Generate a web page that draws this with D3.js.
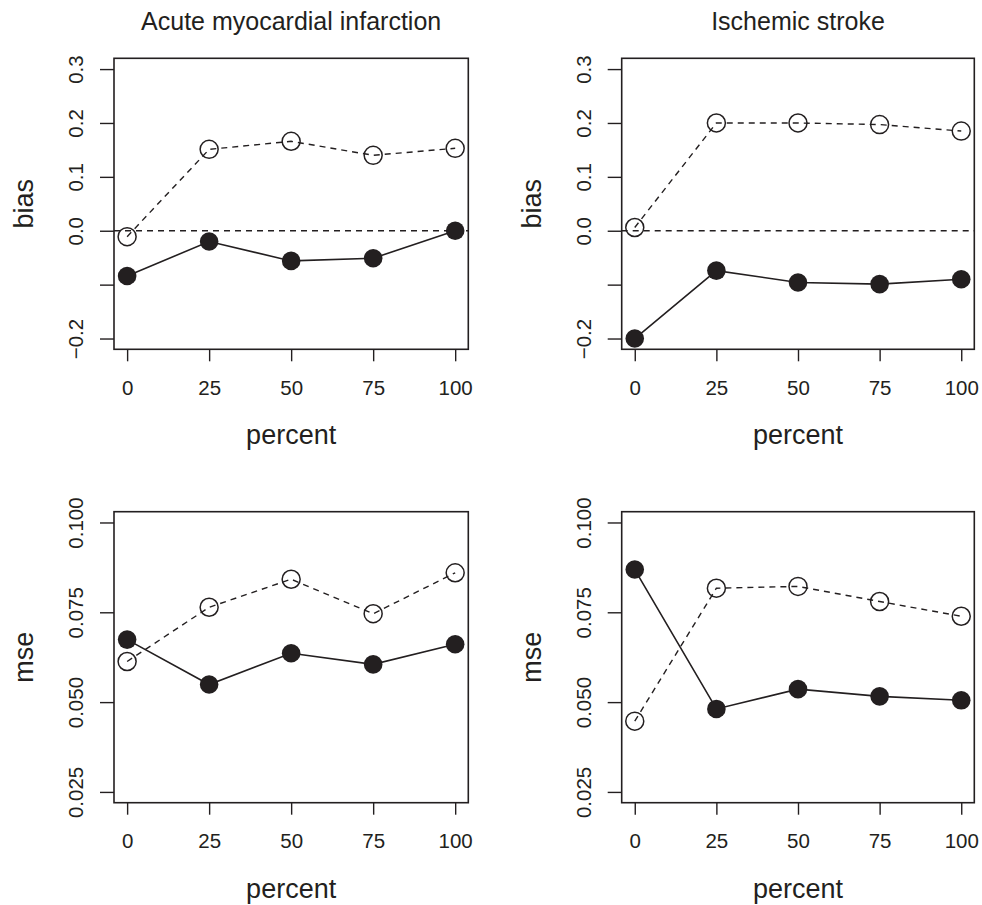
<!DOCTYPE html>
<meta charset="utf-8">
<style>
body { margin: 0; background: #fff; }
svg { display: block; font-family: "Liberation Sans", Arial, Helvetica, sans-serif; }
.box { fill: none; stroke: #231f20; stroke-width: 1.6; }
.axis line { stroke: #231f20; stroke-width: 1.4; }
.axis text { fill: #231f20; font-size: 20.5px; }
.lab { fill: #231f20; font-size: 27px; }
.title { fill: #231f20; font-size: 25px; }
</style>
<svg width="982" height="905"></svg>
<script src="https://d3js.org/d3.v7.min.js"></script>
<script>

// data
var percent = [0, 25, 50, 75, 100];

var amiBiasOpen    = [-0.011, 0.151, 0.166, 0.140, 0.153];
var amiBiasFilled  = [-0.084, -0.020, -0.056, -0.051, 0.000];
var strBiasOpen    = [0.006, 0.200, 0.200, 0.197, 0.185];
var strBiasFilled  = [-0.200, -0.074, -0.096, -0.099, -0.090];

var amiMseOpen     = [0.0613, 0.0764, 0.0842, 0.0746, 0.0860];
var amiMseFilled   = [0.0674, 0.0549, 0.0636, 0.0605, 0.0661];
var strMseOpen     = [0.0447, 0.0817, 0.0822, 0.0780, 0.0739];
var strMseFilled   = [0.0869, 0.0481, 0.0536, 0.0516, 0.0505];

var titles = ["Acute myocardial infarction", "Ischemic stroke"];

var biasTicks = [-0.2, -0.1, 0, 0.1, 0.2, 0.3];
var biasTickLabels = ["\u22120.2", "", "0.0", "0.1", "0.2", "0.3"];
var mseTicks = [0.025, 0.05, 0.075, 0.1];
var mseTickLabels = ["0.025", "0.050", "0.075", "0.100"];

var svg = d3.select("svg");

var cols = [{x0: 114, x1: 468.3}, {x0: 621.7, x1: 974.3}];
var rows = [{y0: 58.3, y1: 349.3}, {y0: 511.7, y1: 802.7}];

var panels = [
  {col: 0, row: 0, open: amiBiasOpen, filled: amiBiasFilled, ylab: "bias", ticks: biasTicks, labels: biasTickLabels, lim: [-0.2, 0.3], zero: true},
  {col: 1, row: 0, open: strBiasOpen, filled: strBiasFilled, ylab: "bias", ticks: biasTicks, labels: biasTickLabels, lim: [-0.2, 0.3], zero: true},
  {col: 0, row: 1, open: amiMseOpen, filled: amiMseFilled, ylab: "mse", ticks: mseTicks, labels: mseTickLabels, lim: [0.025, 0.1], zero: false},
  {col: 1, row: 1, open: strMseOpen, filled: strMseFilled, ylab: "mse", ticks: mseTicks, labels: mseTickLabels, lim: [0.025, 0.1], zero: false}
];

panels.forEach(function(p) {
  var c = cols[p.col], r = rows[p.row];
  var pad = (p.lim[1] - p.lim[0]) * 0.04;

  var x = d3.scaleLinear().domain([-4, 104]).range([c.x0, c.x1]);
  var y = d3.scaleLinear().domain([p.lim[0] - pad, p.lim[1] + pad]).range([r.y1, r.y0]);

  var g = svg.append("g");

  if (p.row === 0) {
    g.append("text")
      .attr("class", "title")
      .attr("x", (c.x0 + c.x1) / 2)
      .attr("y", 30)
      .attr("text-anchor", "middle")
      .text(titles[p.col]);
  }

  if (p.zero) {
    g.append("line")
      .attr("x1", c.x0).attr("x2", c.x1)
      .attr("y1", y(0)).attr("y2", y(0))
      .attr("stroke", "#231f20")
      .attr("stroke-width", 1.4)
      .attr("stroke-dasharray", "6,5");
  }

  var line = d3.line()
    .x(function(d, i) { return x(percent[i]); })
    .y(function(d) { return y(d); });

  g.append("path")
    .datum(p.open)
    .attr("d", line)
    .attr("fill", "none")
    .attr("stroke", "#231f20")
    .attr("stroke-width", 1.4)
    .attr("stroke-dasharray", "6,5");

  g.append("path")
    .datum(p.filled)
    .attr("d", line)
    .attr("fill", "none")
    .attr("stroke", "#231f20")
    .attr("stroke-width", 1.6);

  g.selectAll(".open")
    .data(p.open)
    .enter().append("circle")
    .attr("cx", function(d, i) { return x(percent[i]); })
    .attr("cy", function(d) { return y(d); })
    .attr("r", 9)
    .attr("fill", "none")
    .attr("stroke", "#231f20")
    .attr("stroke-width", 1.5);

  g.selectAll(".filled")
    .data(p.filled)
    .enter().append("circle")
    .attr("cx", function(d, i) { return x(percent[i]); })
    .attr("cy", function(d) { return y(d); })
    .attr("r", 9.3)
    .attr("fill", "#231f20");

  g.append("rect")
    .attr("class", "box")
    .attr("x", c.x0).attr("y", r.y0)
    .attr("width", c.x1 - c.x0).attr("height", r.y1 - r.y0);

  var xa = g.append("g")
    .attr("class", "axis")
    .attr("transform", "translate(0," + r.y1 + ")")
    .call(d3.axisBottom(x).tickValues(percent).tickSize(12).tickPadding(19).tickFormat(d3.format("d")));
  xa.select(".domain").remove();
  xa.selectAll("text").attr("font-family", null).attr("font-size", null);

  var ya = g.append("g")
    .attr("class", "axis")
    .attr("transform", "translate(" + c.x0 + ",0)")
    .call(d3.axisLeft(y).tickValues(p.ticks).tickSize(14).tickFormat(function(d, i) { return p.labels[i]; }));
  ya.select(".domain").remove();
  ya.selectAll("text")
    .attr("font-family", null).attr("font-size", null)
    .attr("x", null).attr("dy", null)
    .attr("text-anchor", "middle")
    .attr("transform", "translate(-31,0) rotate(-90)");

  g.append("text")
    .attr("class", "lab")
    .attr("text-anchor", "middle")
    .attr("x", (c.x0 + c.x1) / 2)
    .attr("y", r.y1 + 95)
    .text("percent");

  g.append("text")
    .attr("class", "lab")
    .attr("text-anchor", "middle")
    .attr("transform", "translate(" + (c.x0 - 81) + "," + ((r.y0 + r.y1) / 2) + ") rotate(-90)")
    .text(p.ylab);
});

</script>
